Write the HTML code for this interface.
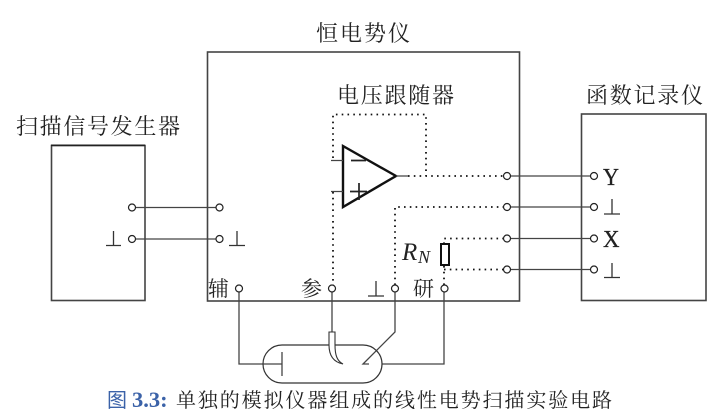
<!DOCTYPE html>
<html><head><meta charset="utf-8"><style>
html,body{margin:0;padding:0;background:#fff;width:720px;height:419px;overflow:hidden}
svg{display:block}
text{font-family:"Liberation Serif","Noto Serif CJK SC",serif;fill:#222}
.t{font-size:22px}
.s{font-size:21px}
.d{stroke-dasharray:1.6 4.2;stroke-width:1.8;stroke:#111;fill:none}
.l{stroke:#444;stroke-width:1.3;fill:none}
.b{stroke:#444;stroke-width:1.6;fill:none}
circle{fill:#fff;stroke:#222;stroke-width:1.2}
</style></head><body>
<svg width="720" height="419" viewBox="0 0 720 419" xmlns="http://www.w3.org/2000/svg">
<rect class="b" x="51.5" y="145.5" width="93.5" height="155"/>
<rect class="b" x="207.5" y="52" width="312" height="249"/>
<rect class="b" x="581.5" y="114" width="124.5" height="186.5"/>
<path class="b" d="M51 145.3H145" style="stroke:#222"/>
<text class="t" x="316" y="41" textLength="94" lengthAdjust="spacing">恒电势仪</text>
<text class="t" x="337" y="103" textLength="117" lengthAdjust="spacing">电压跟随器</text>
<text class="t" x="586" y="103" textLength="117" lengthAdjust="spacing">函数记录仪</text>
<text class="t" x="16" y="134" textLength="164" lengthAdjust="spacing">扫描信号发生器</text>

<path class="l" d="M135 207.5H216M135 239H216"/>
<path class="l" d="M510 176H591M510 207H591M510 238.5H591M510 269.5H591"/>

<path d="M343 146L396 176L343 207Z" fill="#fff" stroke="#111" stroke-width="2.4"/>
<path class="l" d="M331 160.5H343M331 191.5H343M396 176H408"/>
<path class="l" d="M351 160.5H366M350 191.5H367M359 183V200" style="stroke-width:1.7;stroke:#222"/>

<path class="d" d="M333 158V114.500H426V176"/>
<path class="d" d="M408 176H504"/>
<path class="d" d="M333 192V285"/>
<path class="d" d="M395 285V207H504"/>
<path class="d" d="M444 244V238.500H504"/>
<path class="d" d="M444 269.500H504"/>
<path class="d" d="M444 266V285"/>
<rect x="441" y="244" width="8" height="21" fill="#fff" stroke="#111" stroke-width="2"/>

<path class="l" d="M239 291V364H282M332 291V332M395 291V332L363 364H369M444 291V364H382M282 352V376"/>
<rect x="263" y="345" width="119" height="38" rx="19" ry="19" fill="none" stroke="#333" stroke-width="1.2"/>
<path d="M329 332H335V345C335 355 337 361 343 364C333 362 329 355 329 345Z" fill="#fff" stroke="#333" stroke-width="1.1"/>

<circle cx="132" cy="207.500" r="3.500"/><circle cx="132" cy="239" r="3.500"/>
<circle cx="219.500" cy="207.500" r="3.500"/><circle cx="219.500" cy="239" r="3.500"/>
<circle cx="507" cy="176" r="3.500"/><circle cx="507" cy="207" r="3.500"/>
<circle cx="507" cy="238.500" r="3.500"/><circle cx="507" cy="269.500" r="3.500"/>
<circle cx="594" cy="176" r="3.500"/><circle cx="594" cy="207" r="3.500"/>
<circle cx="594" cy="238.500" r="3.500"/><circle cx="594" cy="269.500" r="3.500"/>
<circle cx="239" cy="288.500" r="3.500"/><circle cx="332" cy="288.500" r="3.500"/>
<circle cx="395" cy="288.500" r="3.500"/><circle cx="444.500" cy="288.500" r="3.500"/>

<path class="l" d="M106 245.500H121M113.500 231V245.500M229 245.500H245M237 231V245.500M368 296H384M376 281V296M604 214H620M612 199V214M604 277.500H620M612 263V277.500" style="stroke:#333"/>

<text class="s" x="208" y="296">辅</text>
<text class="s" x="301" y="296">参</text>
<text class="s" x="413" y="296">研</text>
<text x="603" y="185" textLength="16" lengthAdjust="spacingAndGlyphs" style="font-size:24px;stroke:#222;stroke-width:.3">Y</text>
<text x="603" y="247" textLength="16.500" lengthAdjust="spacingAndGlyphs" style="font-size:24px;stroke:#222;stroke-width:.3">X</text>
<text x="402" y="260" style="font-size:25px;font-style:italic">R</text>
<text x="418" y="263" style="font-size:18px;font-style:italic">N</text>

<text x="107" y="407" style="font-size:20px;fill:#3b62a8;font-family:'Liberation Serif','Noto Sans CJK SC',sans-serif">图</text>
<text x="132" y="407" style="font-size:22.500px;font-weight:bold;fill:#3b62a8">3.3:</text>
<text x="176" y="407" textLength="436" lengthAdjust="spacing" style="font-size:20px">单独的模拟仪器组成的线性电势扫描实验电路</text>
</svg>
</body></html>
